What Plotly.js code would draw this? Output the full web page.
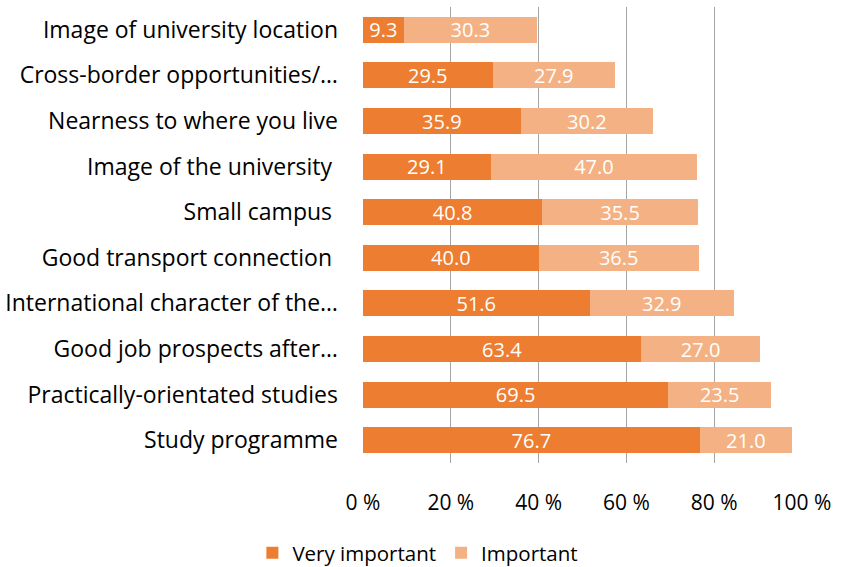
<!DOCTYPE html>
<html>
<head>
<meta charset="utf-8">
<script src="https://cdn.plot.ly/plotly-3.0.1.min.js"></script>
<style>html,body{margin:0;padding:0;background:#fff;}#chart{width:848px;height:567px;}</style>
</head>
<body>
<div id="chart"></div>
<script>
// Categories listed bottom to top
const categories = [
  "Study programme",
  "Practically-orientated studies",
  "Good job prospects after…",
  "International character of the…",
  "Good transport connection\u00a0",
  "Small campus\u00a0",
  "Image of the university\u00a0",
  "Nearness to where you live",
  "Cross-border opportunities/…",
  "Image of university location"
];
const veryImportant = [76.7, 69.5, 63.4, 51.6, 40.0, 40.8, 29.1, 35.9, 29.5, 9.3];
const important     = [21.0, 23.5, 27.0, 32.9, 36.5, 35.5, 47.0, 30.2, 27.9, 30.3];
const tickVals = [0, 20, 40, 60, 80, 100];
const tickText = ["0 %", "20 %", "40 %", "60 %", "80 %", "100 %"];

const FONT = "'Open Sans', sans-serif";

const common = {
  type: "bar",
  orientation: "h",
  y: categories,
  texttemplate: "%{x:.1f}",
  textposition: "inside",
  insidetextanchor: "middle",
  textfont: {color: "#ffffff", size: 20, family: FONT},
  constraintext: "none",
  hoverinfo: "skip"
};

const traces = [
  Object.assign({}, common, {name: "Very important", x: veryImportant, marker: {color: "#ED7D31"}}),
  Object.assign({}, common, {name: "Important", x: important, marker: {color: "#F4B183"}})
];

const layout = {
  width: 848, height: 567,
  margin: {l: 363, r: 46, t: 7, b: 104, autoexpand: false},
  barmode: "stack",
  bargap: 0.43,
  paper_bgcolor: "#ffffff",
  plot_bgcolor: "#ffffff",
  font: {family: FONT, size: 20, color: "#000000"},
  uniformtext: {mode: "show", minsize: 20},
  xaxis: {
    range: [0, 100],
    tickvals: tickVals,
    ticktext: tickText,
    showgrid: true,
    gridcolor: "#A6A6A6",
    gridwidth: 1,
    zeroline: false,
    showline: false,
    ticks: "",
    ticklabelstandoff: 25,
    tickfont: {size: 21, family: FONT, color: "#000"},
    fixedrange: true
  },
  yaxis: {
    type: "category",
    categoryorder: "array",
    categoryarray: categories,
    showgrid: false,
    zeroline: false,
    showline: false,
    ticks: "",
    ticklabelstandoff: 24,
    tickfont: {size: 23, family: FONT, color: "#000"},
    fixedrange: true
  },
  legend: {
    orientation: "h",
    traceorder: "normal",
    x: 0.125, xanchor: "center",
    y: -0.197, yanchor: "middle",
    font: {size: 20.5, family: FONT, color: "#000"}
  },
  showlegend: true
};

Plotly.newPlot("chart", traces, layout, {displayModeBar: false, staticPlot: true});
</script>
</body>
</html>
